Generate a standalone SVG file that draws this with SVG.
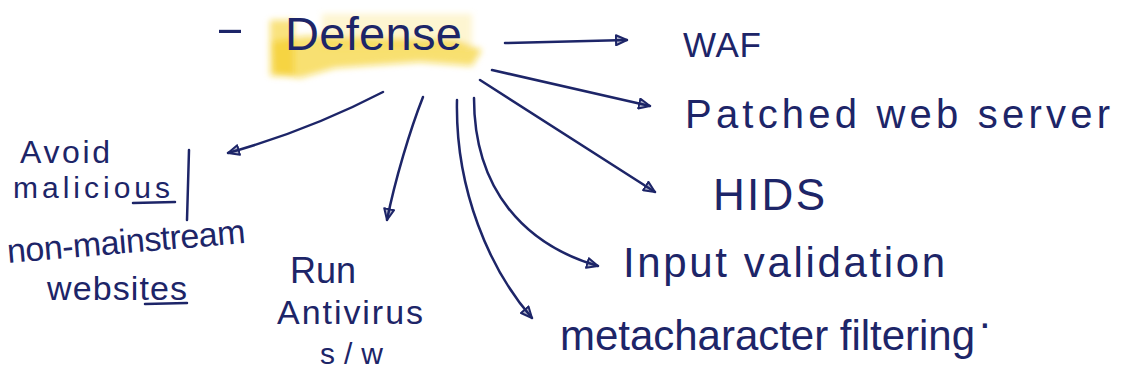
<svg xmlns="http://www.w3.org/2000/svg" width="1128" height="377" viewBox="0 0 1128 377">
  <style>
    .ink { fill: #1d2568; font-family: "Liberation Sans", "DejaVu Sans", sans-serif; }
    .wire { fill: none; stroke: #1d2568; stroke-width: 2.5; stroke-linecap: round; marker-end: url(#head); }
    .mark { stroke: #1d2568; stroke-width: 2.5; stroke-linecap: round; fill: none; }
  </style>
  <defs>
    <marker id="head" viewBox="0 0 14 12" refX="12" refY="6" markerWidth="14" markerHeight="12" markerUnits="userSpaceOnUse" orient="auto">
      <path d="M1,1 L12,6 L1,11 Z" fill="#1d2568" fill-opacity="0.35" stroke="#1d2568" stroke-width="2" stroke-linejoin="round"/>
    </marker>
    <filter id="soft" x="-10%" y="-30%" width="120%" height="160%">
      <feGaussianBlur stdDeviation="3"/>
    </filter>
  </defs>

  <rect width="1128" height="377" fill="#ffffff"/>

  <!-- central topic with highlighter wash -->
  <g id="defense">
    <g filter="url(#soft)">
      <rect x="322" y="14" width="150" height="34" fill="#f8e27c" opacity="0.35"/>
      <path d="M272,42 L305,36 L455,40 L482,50 L472,66 L420,62 L335,68 L300,78 L274,74 Z" fill="#f4cb15" opacity="0.6"/>
      <rect x="270" y="20" width="24" height="56" fill="#f4cb15" opacity="0.55"/>
    </g>
    <text class="ink" x="215" y="42" font-size="40" textLength="30" lengthAdjust="spacingAndGlyphs">-</text>
    <text class="ink" x="285" y="50" font-size="47" textLength="177">Defense</text>
  </g>

  <!-- connectors -->
  <g id="connectors">
    <path class="wire" d="M505,43 L627,40"/>
    <path class="wire" d="M492,70 L650,106"/>
    <path class="wire" d="M480,80 L655,192"/>
    <path class="wire" d="M474,98 C474,190 525,245 598,266"/>
    <path class="wire" d="M457,100 C455,190 490,270 532,318"/>
    <path class="wire" d="M423,97 C410,130 395,180 387,220"/>
    <path class="wire" d="M383,92 Q310,130 228,153"/>
  </g>

  <g id="waf">
    <text class="ink" x="683" y="57" font-size="35" textLength="78">WAF</text>
  </g>

  <g id="patched-web-server">
    <text class="ink" x="685" y="128" font-size="40" textLength="425">Patched web server</text>
  </g>

  <g id="hids">
    <text class="ink" x="713" y="210" font-size="44" textLength="112">HIDS</text>
  </g>

  <g id="input-validation">
    <text class="ink" x="623" y="277" font-size="42" textLength="322">Input validation</text>
  </g>

  <g id="metacharacter-filtering">
    <text class="ink" x="560" y="350" font-size="42" textLength="415">metacharacter filtering</text>
    <text class="ink" x="979" y="328" font-size="42">.</text>
  </g>

  <g id="run-antivirus">
    <text class="ink" x="290" y="283" font-size="36" textLength="66">Run</text>
    <text class="ink" x="277" y="324" font-size="34" textLength="146">Antivirus</text>
    <text class="ink" x="320" y="364" font-size="30" textLength="63">s/w</text>
  </g>

  <g id="avoid-websites">
    <text class="ink" x="20" y="163" font-size="32" textLength="90">Avoid</text>
    <text class="ink" x="13" y="198" font-size="30" textLength="157">malicious</text>
    <line class="mark" x1="133" y1="203" x2="175" y2="202"/>
    <line class="mark" x1="189" y1="150" x2="187" y2="220"/>
    <text class="ink" x="8" y="263" font-size="34" textLength="239" transform="rotate(-4.8 8 263)">non-mainstream</text>
    <text class="ink" x="47" y="300" font-size="34" textLength="140">websites</text>
    <line class="mark" x1="145" y1="304" x2="187" y2="303"/>
  </g>
</svg>
